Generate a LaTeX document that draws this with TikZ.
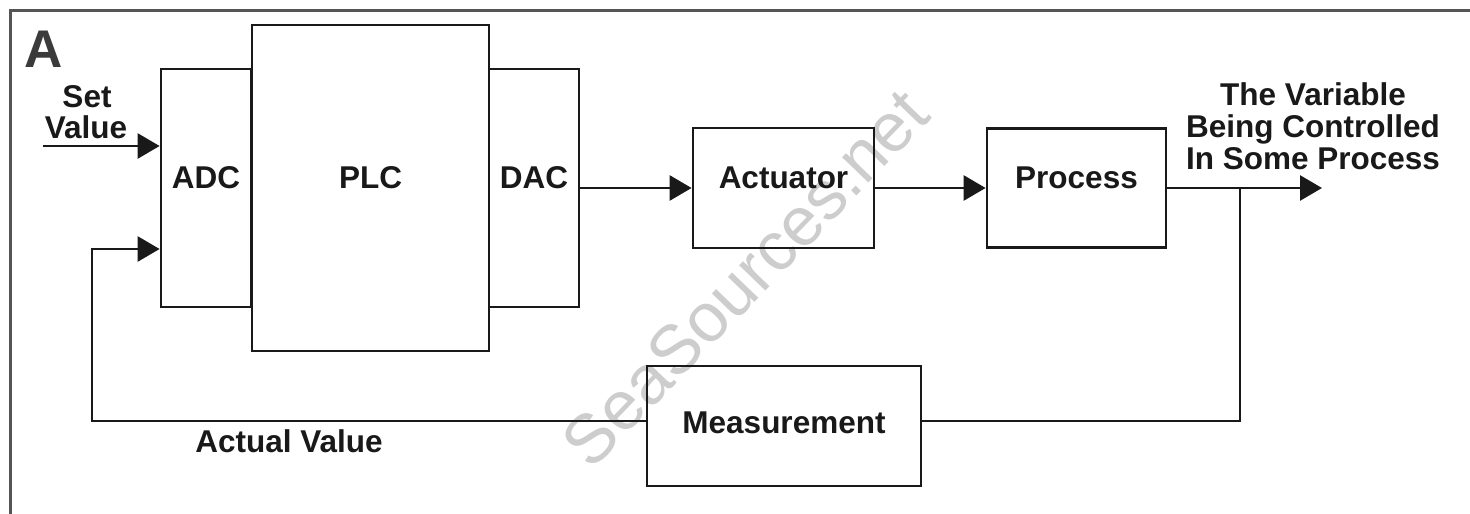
\documentclass[tikz,border=0pt]{standalone}
\usepackage{fontspec}
\setmainfont{Liberation Sans}
\usetikzlibrary{arrows.meta}
\definecolor{ink}{RGB}{25,25,25}
\definecolor{framec}{RGB}{85,85,85}
\definecolor{wm}{RGB}{205,205,205}
\begin{document}
\begin{tikzpicture}[x=1pt,y=-1pt,
  lab/.style={font=\fontsize{31.5}{32}\selectfont\bfseries, text=ink, inner sep=0pt, anchor=base},
  blk/.style={draw=ink, line width=2.8pt, inner sep=0pt, font=\fontsize{31.5}{32}\selectfont\bfseries, text=ink, text height=11pt, text depth=11pt},
  wire/.style={draw=ink, line width=2.8pt},
  arr/.style={wire, -{Triangle[length=22pt,width=25pt]}}]
\fill[white] (0,0) rectangle (1470,514);
\useasboundingbox (0,0) rectangle (1470,514);
% frame
\draw[framec, line width=3pt] (10,514) -- (10,10) -- (1470,10);
% watermark
\node[text=wm, font=\fontsize{69}{69}\selectfont, rotate=46, inner sep=0pt] (wmark) at (745,278) {SeaSources.net};
% blocks
\node[blk, minimum width=90pt, minimum height=238pt] (adc) at (206,188) {ADC};
\node[blk, minimum width=237pt, minimum height=326pt] (plc) at (370.5,188) {PLC};
\node[blk, minimum width=90pt, minimum height=238pt] (dac) at (534,188) {DAC};
\node[blk, minimum width=181pt, minimum height=120pt] (act) at (783.5,188) {Actuator};
\node[blk, minimum width=179pt, minimum height=119pt] (proc) at (1076.5,188) {Process};
\node[blk, minimum width=274pt, minimum height=120pt, text height=20pt, text depth=6pt] (meas) at (784,426) {Measurement};
% coordinates
\coordinate (setin) at (43,146);
\coordinate (out) at (1322,188);
\coordinate (tap) at (1240,188);
\coordinate (fbR) at (1240,421);
\coordinate (fbL) at (92,421);
\coordinate (fbUp) at (92,249);
% connectors
\draw[arr] (setin) -- (setin -| adc.west);
\draw[arr] (dac.east) -- (act.west);
\draw[arr] (act.east) -- (proc.west);
\draw[arr] (proc.east) -- (out);
\draw[wire] (tap) -- (fbR) -- (fbR -| meas.east);
\draw[arr] (fbL -| meas.west) -- (fbL) -- (fbUp) -- (fbUp -| adc.west);
% texts
\node[lab, font=\fontsize{53}{53}\selectfont\bfseries, text=ink!85] (tA) at (44,67) {A};
\node[lab] (set) at (87,107) {Set};
\node[lab] (value) at (86,138) {Value};
\node[lab] (actual) at (289,452) {Actual Value};
\node[lab] (var1) at (1313,105) {The Variable};
\node[lab] (var2) at (1313,137) {Being Controlled};
\node[lab] (var3) at (1313,169) {In Some Process};
\end{tikzpicture}
\end{document}
